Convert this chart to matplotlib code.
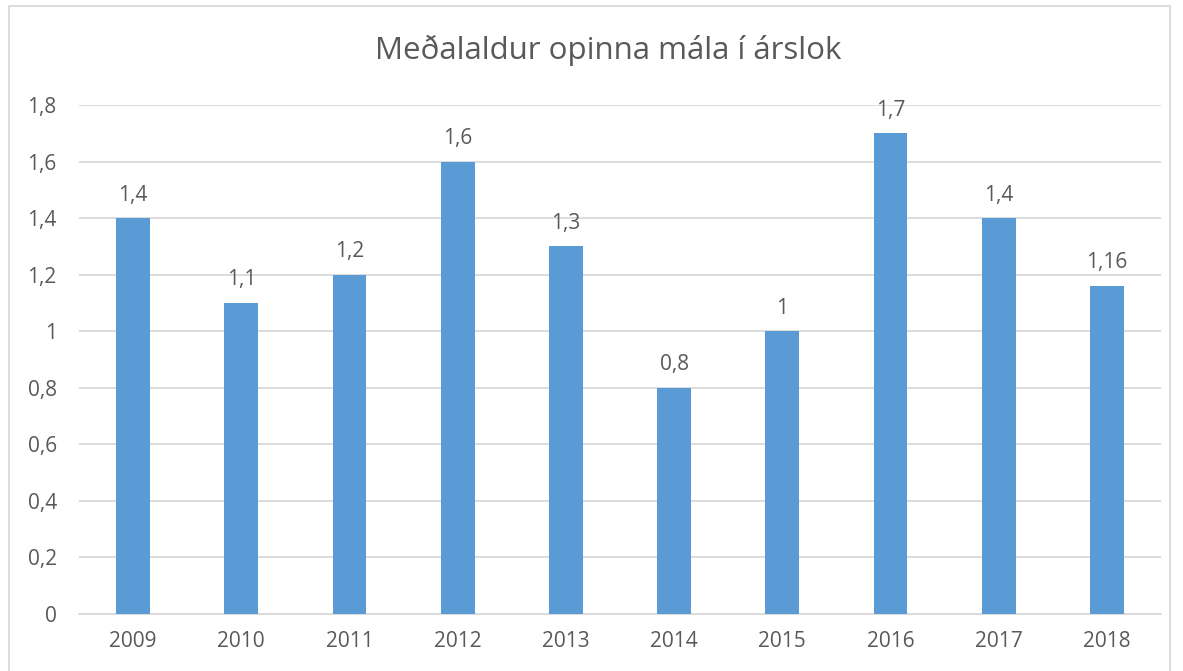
import matplotlib.pyplot as plt
from matplotlib.patches import Rectangle

years = ["2009", "2010", "2011", "2012", "2013", "2014", "2015", "2016", "2017", "2018"]
values = [1.4, 1.1, 1.2, 1.6, 1.3, 0.8, 1.0, 1.7, 1.4, 1.16]
value_labels = ["1,4", "1,1", "1,2", "1,6", "1,3", "0,8", "1", "1,7", "1,4", "1,16"]
yticks = [0, 0.2, 0.4, 0.6, 0.8, 1.0, 1.2, 1.4, 1.6, 1.8]
ytick_labels = ["0", "0,2", "0,4", "0,6", "0,8", "1", "1,2", "1,4", "1,6", "1,8"]

TEXT = "#595959"
GRID = "#D9D9D9"
BAR = "#5B9BD5"

plt.rcParams["font.family"] = ["Open Sans", "DejaVu Sans"]

fig = plt.figure(figsize=(11.83, 6.71), dpi=100)
ax = fig.add_axes([79 / 1183, 1 - 614 / 671, (1161 - 79) / 1183, (614 - 105) / 671])

x = range(len(years))
ax.bar(x, values, width=0.314, color=BAR, zorder=3)
for xi, v, lab in zip(x, values, value_labels):
    ax.annotate(lab, (xi, v), xytext=(0, 9), textcoords="offset points",
                ha="center", va="bottom", fontsize=15, color=TEXT)

ax.set_xlim(-0.5, len(years) - 0.5)
ax.set_ylim(0, 1.8)
ax.set_xticks(list(x))
ax.set_xticklabels(years, fontsize=15, color=TEXT)
ax.set_yticks(yticks)
ax.set_yticklabels(ytick_labels, fontsize=15, color=TEXT)
ax.tick_params(axis="y", length=0, pad=16)
ax.tick_params(axis="x", length=0, pad=12)
ax.grid(axis="y", color=GRID, linewidth=1.3, zorder=0)
for side in ["top", "right", "left"]:
    ax.spines[side].set_visible(False)
ax.spines["bottom"].set_color(GRID)
ax.spines["bottom"].set_linewidth(1.3)

fig.text(608 / 1183, 1 - 50 / 671, "Meðalaldur opinna mála í árslok", ha="center", va="center",
         fontsize=22.5, color=TEXT)

# chart frame
fig.patches.append(Rectangle((9 / 1183, -0.01), (1170 - 9) / 1183, 1 - 6 / 671 + 0.01,
                             transform=fig.transFigure, fill=False, edgecolor=GRID, linewidth=1.3))

fig.savefig("out.png", dpi=100)
